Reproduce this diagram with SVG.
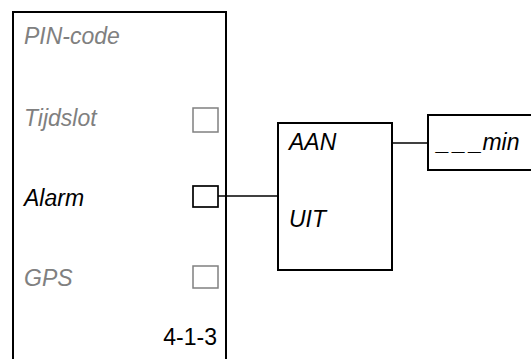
<svg xmlns="http://www.w3.org/2000/svg" width="531" height="359" viewBox="0 0 531 359">
<style>
.t{font-family:"Liberation Sans",Arial,sans-serif;font-size:23px;font-style:italic}
.g{fill:#808080}
.k{fill:#000}
.box{fill:none;stroke:#000;stroke-width:2}
.cbg{fill:#fff;stroke:#808080;stroke-width:1.5}
.cbk{fill:#fff;stroke:#000;stroke-width:1.7}
.ln{fill:none;stroke:#000;stroke-width:1.3}
</style>
<rect width="531" height="359" fill="#fff"/>
<g id="connectors">
<path class="ln" d="M218,196 H278"/>
<path class="ln" d="M392,143 H428"/>
</g>
<g id="panel">
<path class="box" d="M13,360 V12 H226 V360"/>
<text class="t g" x="24" y="44">PIN-code</text>
<text class="t g" x="24" y="126">Tijdslot</text>
<rect class="cbg" x="193" y="108" width="25" height="24"/>
<text class="t k" x="24" y="206">Alarm</text>
<rect class="cbk" x="193" y="186" width="25" height="21"/>
<text class="t g" x="24" y="286">GPS</text>
<rect class="cbg" x="193" y="266" width="25" height="22"/>
<text x="217" y="345" text-anchor="end" style="font-family:'Liberation Sans',Arial,sans-serif;font-size:23px">4-1-3</text>
</g>
<g id="aan-uit">
<rect class="box" x="278" y="123" width="114" height="147"/>
<text class="t k" x="289" y="150">AAN</text>
<text class="t k" x="289" y="227">UIT</text>
</g>
<g id="min">
<rect class="box" x="428" y="115" width="110" height="55"/>
<text class="t k" x="437" y="150"><tspan letter-spacing="3.5">___</tspan><tspan dx="-3.5">min</tspan></text>
</g>
</svg>
